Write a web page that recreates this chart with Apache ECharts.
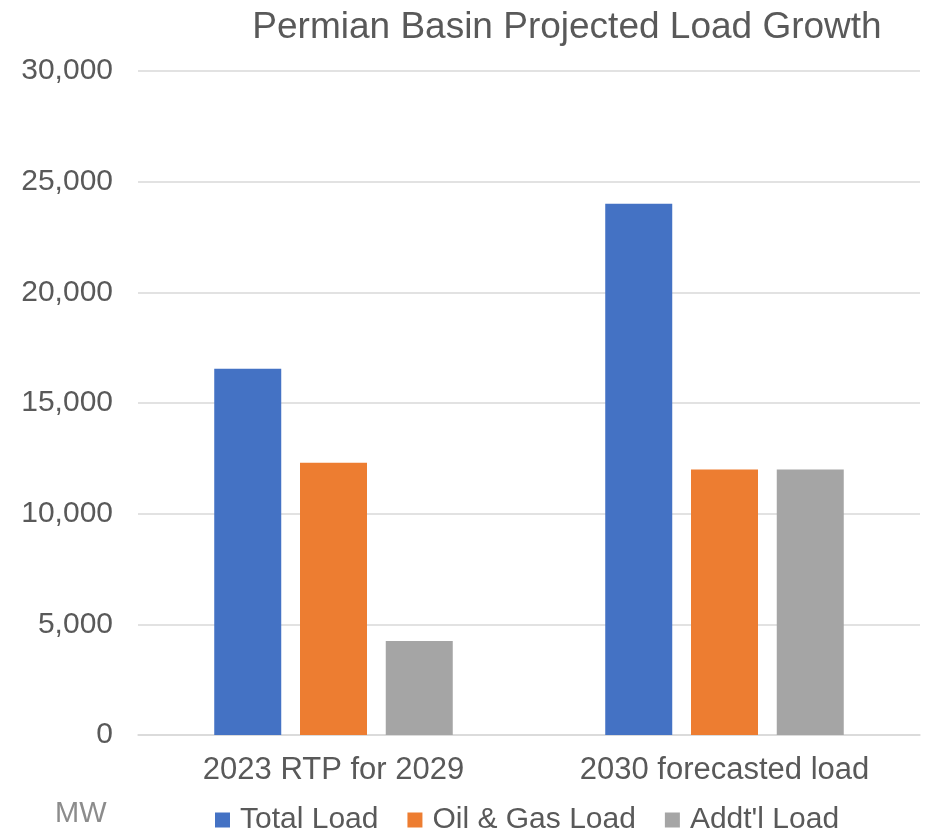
<!DOCTYPE html>
<html>
<head>
<meta charset="utf-8">
<script src="https://cdn.jsdelivr.net/npm/echarts@6/dist/echarts.min.js"></script>
<style>html,body{margin:0;padding:0;background:#fff}#c{width:933px;height:833px}</style>
</head>
<body>
<div id="c"></div>
<script>
var categories = ['2023 RTP for 2029', '2030 forecasted load'];
var totalLoad = [16550, 24000];
var oilGasLoad = [12300, 12000];
var addtlLoad = [4250, 12000];
var seriesNames = ['Total Load', 'Oil & Gas Load', "Addt'l Load"];
var yTicks = [0, 5000, 10000, 15000, 20000, 25000, 30000];

var colors = ['#4472C4', '#ED7D31', '#A5A5A5'];
var chart = echarts.init(document.getElementById('c'), null, {renderer: 'canvas'});
function bar(name, data, color) {
  return {name: name, type: 'bar', data: data, barWidth: 67, barGap: '28%',
    itemStyle: {color: color}};
}
chart.setOption({
  animation: false,
  title: {text: 'Permian Basin Projected Load Growth', left: 562, top: 4, textAlign: 'center',
    textStyle: {fontFamily: 'Liberation Sans', fontSize: 37, fontWeight: 'normal', color: '#595959'}},
  grid: {left: 138, right: 13, top: 71, bottom: 98, containLabel: false},
  legend: {left: 210, top: 800, itemWidth: 15, itemHeight: 15, itemGap: 29, icon: 'rect',
    textStyle: {fontFamily: 'Liberation Sans', fontSize: 30, color: '#595959', padding: [0, 0, 0, 5]},
    data: seriesNames},
  graphic: [{type: 'text', left: 55, top: 799,
    style: {text: 'MW', fontFamily: 'Liberation Sans', fontSize: 29, fill: '#8c8c8c'}}],
  xAxis: {type: 'category', data: categories,
    axisLine: {lineStyle: {color: '#d9d9d9', width: 1.5}}, axisTick: {show: false},
    axisLabel: {margin: 20, interval: 0, fontFamily: 'Liberation Sans', fontSize: 31, color: '#595959'}},
  yAxis: {type: 'value', min: yTicks[0], max: yTicks[yTicks.length - 1], interval: yTicks[1] - yTicks[0],
    axisLine: {show: false}, axisTick: {show: false},
    splitLine: {lineStyle: {color: '#d9d9d9', width: 1.5}},
    axisLabel: {margin: 25, fontFamily: 'Liberation Sans', fontSize: 30, color: '#595959',
      formatter: function (v) { return v.toLocaleString('en-US'); }}},
  series: [bar(seriesNames[0], totalLoad, colors[0]), bar(seriesNames[1], oilGasLoad, colors[1]), bar(seriesNames[2], addtlLoad, colors[2])]
});
</script>
</body>
</html>
